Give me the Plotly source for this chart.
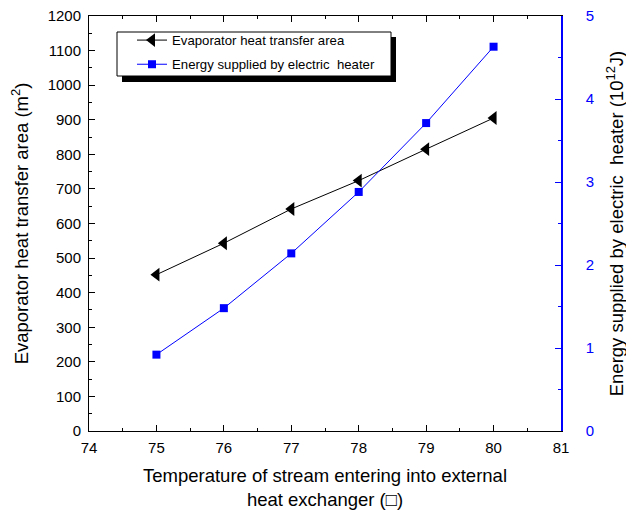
import plotly.graph_objects as go

temperature = [75, 76, 77, 78, 79, 80]
evaporator_area = [452, 543, 642, 724, 815, 905]
heater_energy = [0.92, 1.48, 2.14, 2.88, 3.71, 4.63]

x_ticks = [74, 75, 76, 77, 78, 79, 80, 81]

FONT = "Liberation Sans, Arial, sans-serif"

OFF = 8                      # page body margin of the browser
W, H = 634 - OFF, 510 - OFF
L, T = 89 - OFF, 16 - OFF
pw, ph = 472, 415
R, B = W - L - pw, H - T - ph


def px(xs):
    """screen x pixel -> paper fraction"""
    return (xs - OFF - L) / pw


def py(ys):
    """screen y pixel -> paper fraction"""
    return (T + ph - (ys - OFF)) / ph


fig = go.Figure()
fig.add_trace(go.Scatter(
    x=temperature, y=evaporator_area, name="Evaporator heat transfer area",
    mode="lines+markers", line=dict(color="black", width=1),
    marker=dict(symbol="triangle-left", size=12, color="black"),
    legendgroup="a",
))
fig.add_trace(go.Scatter(
    x=temperature, y=heater_energy,
    name="Energy supplied by electric\u00a0 heater",
    mode="lines+markers", line=dict(color="#0000ff", width=1),
    marker=dict(symbol="square", size=8, color="#0000ff"), yaxis="y2",
    legendgroup="b",
))

# legend box with shadow
fig.add_shape(type="rect", xref="paper", yref="paper",
              x0=px(122), x1=px(396), y0=py(82), y1=py(37),
              fillcolor="black", line=dict(width=0), layer="above")
fig.add_shape(type="rect", xref="paper", yref="paper",
              x0=px(117), x1=px(391), y0=py(76), y1=py(32),
              fillcolor="white", line=dict(color="black", width=1), layer="above")

fig.update_layout(
    width=W, height=H,
    margin=dict(l=L, r=R, t=T, b=B, autoexpand=False),
    paper_bgcolor="white", plot_bgcolor="white",
    font=dict(family=FONT, size=15, color="black"),
    showlegend=True,
    legend=dict(x=px(132), y=py(25), xanchor="left", yanchor="top",
                bgcolor="rgba(0,0,0,0)", borderwidth=0,
                font=dict(family=FONT, size=13.2, color="black"),
                tracegroupgap=4),
    xaxis=dict(
        range=[74, 81], tickvals=x_ticks, ticks="inside", ticklen=6,
        tickcolor="black", showline=True, linecolor="black", linewidth=1,
        mirror="ticks", showgrid=False, zeroline=False, automargin=False,
        minor=dict(dtick=0.5, ticks="inside", ticklen=3, tickcolor="black"),
        tickfont=dict(size=15), ticklabelstandoff=3, ticklabeloverflow="allow",
        title=dict(text="Temperature of stream entering into external<br>heat exchanger (\u25a1)",
                   font=dict(size=18.5), standoff=15),
    ),
    yaxis=dict(
        range=[0, 1200], dtick=100, ticks="inside", ticklen=6,
        tickcolor="black", showline=True, linecolor="black", linewidth=1,
        showgrid=False, zeroline=False, automargin=False,
        minor=dict(dtick=50, ticks="inside", ticklen=3, tickcolor="black"),
        tickfont=dict(size=15), ticklabelstandoff=4, ticklabeloverflow="allow",
        title=dict(text="Evaporator heat transfer area (m<sup>2</sup>)",
                   font=dict(size=18.5), standoff=18),
    ),
    yaxis2=dict(
        range=[0, 5], dtick=1, overlaying="y", side="right", anchor="x",
        ticks="inside", ticklen=6, tickcolor="#0000ff",
        showline=True, linecolor="#0000ff", linewidth=1.5,
        showgrid=False, zeroline=False, automargin=False,
        minor=dict(dtick=0.5, ticks="inside", ticklen=3, tickcolor="#0000ff"),
        tickfont=dict(size=15, color="#0000ff"), ticklabelstandoff=20,
        ticklabeloverflow="allow",
        title=dict(text="Energy supplied by electric\u00a0 heater (10<sup>12</sup>J)",
                   font=dict(size=18.5, color="black"), standoff=17),
    ),
)

fig.write_html("out.html")
